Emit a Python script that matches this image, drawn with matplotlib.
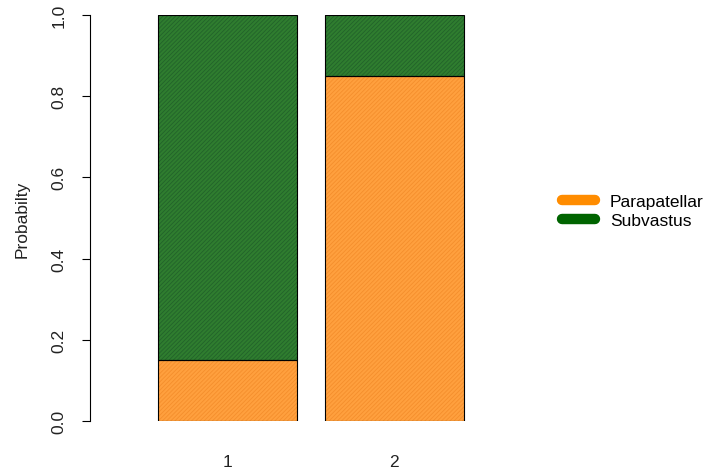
import matplotlib.pyplot as plt
from matplotlib.lines import Line2D

plt.rcParams['font.family'] = ['Liberation Sans', 'DejaVu Sans']
plt.rcParams['hatch.linewidth'] = 0.6

groups = ['1', '2']
parapatellar = [0.15, 0.85]
subvastus = [0.85, 0.15]
series_names = ['Parapatellar', 'Subvastus']

orange_fill, orange_hatch, orange_line = '#FFA03E', '#F48E2C', '#FF8C00'
green_fill, green_hatch, green_line = '#2F7D2F', '#22632A', '#006400'

fig = plt.figure(figsize=(7.1, 4.77), dpi=100)
ax = fig.add_axes([90 / 710, 55 / 477, 430 / 710, 406 / 477])

# R barplot layout: width 1, space 0.2
xpos = [0.2 + 1.2 * i + 0.5 for i in range(len(groups))]

# fill with hatch, then black outline on top
ax.bar(xpos, parapatellar, width=1.0, color=orange_fill, edgecolor=orange_hatch,
       hatch='////////', linewidth=0)
ax.bar(xpos, subvastus, width=1.0, bottom=parapatellar, color=green_fill,
       edgecolor=green_hatch, hatch='////////', linewidth=0)
ax.bar(xpos, parapatellar, width=1.0, fill=False, edgecolor='black', linewidth=0.8)
ax.bar(xpos, subvastus, width=1.0, bottom=parapatellar, fill=False,
       edgecolor='black', linewidth=0.8)

ax.set_xlim(-40 / 139, 390 / 139)
ax.set_ylim(0, 1)
for s in ['top', 'right', 'bottom']:
    ax.spines[s].set_visible(False)
ax.spines['left'].set_linewidth(0.8)

ax.set_yticks([0.0, 0.2, 0.4, 0.6, 0.8, 1.0])
ax.set_yticklabels(['0.0', '0.2', '0.4', '0.6', '0.8', '1.0'], rotation=90,
                   va='center', fontsize=12.5, color='#222222')
ax.tick_params(axis='y', length=6, width=0.8, pad=11)
ax.set_xticks(xpos)
ax.set_xticklabels(groups, fontsize=12.5, color='#222222')
ax.tick_params(axis='x', length=0, pad=24)
ax.set_ylabel('Probabilty', fontsize=12.5, labelpad=16, color='#222222')

handles = [Line2D([0], [0], color=orange_line, lw=7.5, solid_capstyle='round'),
           Line2D([0], [0], color=green_line, lw=7.5, solid_capstyle='round')]
fig.legend(handles, series_names, loc='center left',
           bbox_to_anchor=(562 / 710, 1 - 212 / 477), frameon=False,
           fontsize=12.5, handlelength=1.9, handletextpad=0.86, labelspacing=0.2,
           borderpad=0, borderaxespad=0)

fig.savefig('out.png', dpi=100)
